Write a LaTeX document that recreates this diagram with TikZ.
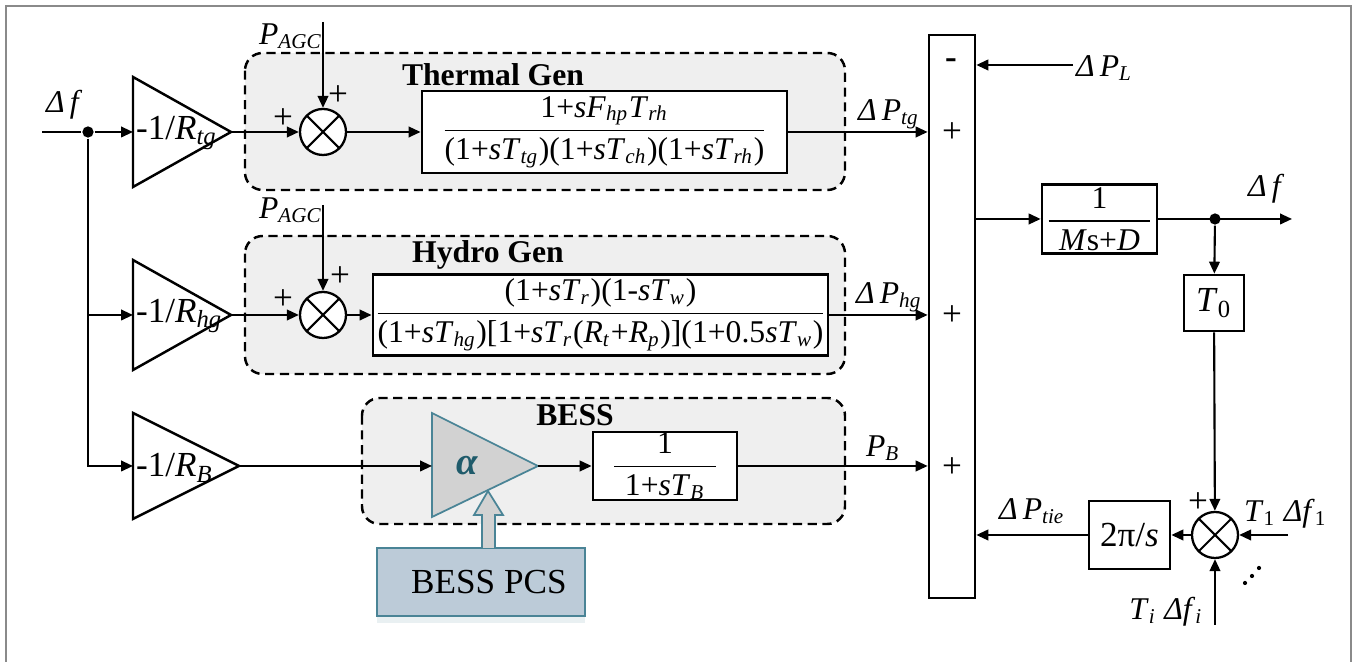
\documentclass[tikz,border=0pt]{standalone}
\usepackage{fontspec}
\setmainfont{Liberation Serif}
\usetikzlibrary{arrows.meta, positioning, calc, shadows}
\definecolor{groupgray}{HTML}{EFEFEF}
\definecolor{ampfill}{HTML}{D2D2D2}
\definecolor{tealedge}{HTML}{4A8496}
\definecolor{tealtext}{HTML}{1F5B6B}
\definecolor{pcsfill}{HTML}{BCCBD8}
\definecolor{framegray}{HTML}{8A8A8A}

\newcommand{\vi}[1]{\textit{#1}}
\newcommand{\lsub}[1]{\textsubscript{\textit{#1}}}
\newcommand{\blkfrac}[2]{$\displaystyle\frac{\hbox{#1}}{\hbox{#2}}$}

\tikzset{
  block/.style={draw, line width=0.75pt, fill=white, inner sep=0pt},
  group/.style={draw, dash pattern=on 2.6pt off 1.6pt, line width=0.7pt, rounded corners=5pt, fill=groupgray},
  grouptitle/.style={font=\fontsize{9}{11}\selectfont\bfseries, inner sep=0pt},
  summer/.style={draw, circle, line width=0.65pt, fill=white, minimum size=0.46cm, inner sep=0pt,
    path picture={\draw[line width=0.6pt] (path picture bounding box.north west) -- (path picture bounding box.south east)
      (path picture bounding box.north east) -- (path picture bounding box.south west);}},
  joint/.style={circle, fill, inner sep=0pt, minimum size=3.2pt},
  lbl/.style={inner sep=0pt, anchor=base west},
  sgn/.style={inner sep=0pt, font=\fontsize{10}{12}\selectfont},
  gain/.style={inner sep=0pt, font=\fontsize{10}{12}\selectfont},
  amp/.style={draw, line width=0.7pt, fill=white},
}

\begin{document}
\begin{tikzpicture}[x=0.01cm, y=-0.01cm, >={Triangle[length=3.4pt,width=3pt]}, line width=0.6pt, font=\fontsize{9}{11}\selectfont]
  \useasboundingbox (0,0) rectangle (1354,662);
  % Rámeček
  \draw[framegray, line width=0.7pt] (6,662) -- (6,6) -- (1351,6) -- (1351,662);

  % Skupiny (čárkované)
  \draw[group] (245,53) rectangle (845,190);
  \draw[group] (245,236) rectangle (845,374);
  \draw[group] (362,398) rectangle (845,524);
  \node[grouptitle] (thtitle) at (493,75) {Thermal Gen};
  \node[grouptitle] (hytitle) at (488,255) {Hydro Gen};
  \node[grouptitle] (bstitle) at (575,415) {BESS};

  % Zesilovače -1/R
  \draw[amp] (133,77) -- (231,132) -- (133,187) -- cycle;
  \draw[amp] (133,260) -- (231,315) -- (133,370) -- cycle;
  \draw[amp] (133,413) -- (239,466) -- (133,519) -- cycle;
  \coordinate (g1in) at (133,132); \coordinate (g1out) at (231,132);
  \coordinate (g2in) at (133,315); \coordinate (g2out) at (231,315);
  \coordinate (g3in) at (133,466); \coordinate (g3out) at (239,466);
  \node[gain, anchor=west] (g1txt) at (135,133) {-1/\vi{R}\lsub{tg}};
  \node[gain, anchor=west] (g2txt) at (135,316) {-1/\vi{R}\lsub{hg}};
  \node[gain, anchor=west] (g3txt) at (135,468) {-1/\vi{R}\lsub{B}};

  % Vstup Δf
  \coordinate (fin) at (42,132);
  \node[joint] (j1) at (88,132) {};
  \node[lbl] (dfin) at (45,113) {\vi{Δ\,f}};
  \draw (fin) -- (j1);
  \draw[->] (j1) -- (g1in);
  \draw[->] (j1) |- (g3in);
  \draw[->] (j1 |- g2in) -- (g2in);

  % Sčítačky P_AGC
  \node[summer] (s1) at (323,132) {};
  \node[summer] (s2) at (323,315) {};
  \coordinate (agc1) at (323,22);
  \coordinate (agc2) at (323,205);
  \node[lbl] (agc1txt) at (258,45) {\vi{P}\lsub{AGC}};
  \node[lbl] (agc2txt) at (258,219) {\vi{P}\lsub{AGC}};
  \node[sgn] at (338,96) {+};
  \node[sgn] at (283,119) {+};
  \node[sgn] at (340,277) {+};
  \node[sgn] at (283,300) {+};
  \draw[->] (agc1) -- (s1);
  \draw[->] (agc2) -- (s2);
  \draw[->] (g1out) -- (s1);
  \draw[->] (g2out) -- (s2);

  % Přenosy bloků
  \node[block, minimum width=3.65cm, minimum height=0.82cm] (thtf) at (604.5,132)
    {\blkfrac{1+\vi{sF}\lsub{hp}\vi{T}\lsub{rh}}{(1+\vi{sT}\lsub{tg})(1+\vi{sT}\lsub{ch})(1+\vi{sT}\lsub{rh})}};
  \node[block, minimum width=4.55cm, minimum height=0.81cm] (hytf) at (600.5,315)
    {\blkfrac{(1+\vi{sT}\lsub{r})(1-\vi{sT}\lsub{w})}{(1+\vi{sT}\lsub{hg})[1+\vi{sT}\lsub{r}(\vi{R}\lsub{t}+\vi{R}\lsub{p})](1+0.5\vi{sT}\lsub{w})}};
  \node[block, minimum width=1.44cm, minimum height=0.68cm] (bstf) at (665,466)
    {\blkfrac{1}{\hspace{3pt}1+\vi{sT}\lsub{B}\hspace{3pt}}};
  \draw[->] (s1) -- (thtf);
  \draw[->] (s2) -- (hytf);

  % BESS: alfa a PCS
  \draw[tealedge, line width=0.5pt, fill=ampfill] (432,413) -- (538,466) -- (432,517) -- cycle;
  \coordinate (ain) at (432,466); \coordinate (aout) at (538,466);
  \node[text=tealtext, font=\fontsize{11}{13}\selectfont\bfseries\itshape] (alpha) at (467,466) {α};
  \node[draw=tealedge, line width=0.5pt, fill=pcsfill, minimum width=2.08cm, minimum height=0.68cm,
    font=\fontsize{10}{12}\selectfont, drop shadow={shadow xshift=0pt, shadow yshift=-2pt, fill=tealedge, opacity=0.12}]
    (pcs) at (481,582) {\hspace{4.5pt}BESS PCS};
  \draw[tealedge, line width=0.5pt, fill=ampfill] (482,548) -- (482,515) -- (474,515) -- (488,491)
    -- (503,515) -- (495,515) -- (495,548);
  \draw[->] (g3out) -- (ain);
  \draw[->] (aout) -- (bstf);

  % Sčítací sběrnice
  \node[block, minimum width=0.46cm, minimum height=5.63cm] (bar) at (952,316.5) {};
  \node[sgn, font=\fontsize{10}{12}\selectfont\bfseries] at (951,64) {-};
  \node[sgn] at (952,133) {+};
  \node[sgn] at (952,316) {+};
  \node[sgn] at (952,468) {+};
  \draw[->] (thtf) -- (thtf -| bar.west);
  \draw[->] (hytf) -- (hytf -| bar.west);
  \draw[->] (bstf) -- (bstf -| bar.west);
  \node[lbl] (ptg) at (857,121) {\vi{Δ\,P}\lsub{tg}};
  \node[lbl] (phg) at (855,304) {\vi{Δ\,P}\lsub{hg}};
  \node[lbl] (pb) at (865,457) {\vi{P}\lsub{B}};
  \coordinate (plin) at (1073,65);
  \node[lbl] (pl) at (1075,77) {\vi{Δ\,P}\lsub{L}};
  \draw[->] (plin) -- (plin -| bar.east);

  % Setrvačnost a výstup Δf
  \node[block, minimum width=1.15cm, minimum height=0.69cm] (mtf) at (1099.5,219)
    {\blkfrac{1}{\hspace{3pt}\vi{M}s+\vi{D}\hspace{3pt}}};
  \draw[->] (bar.east |- mtf) -- (mtf);
  \node[joint] (j2) at (1215,219) {};
  \coordinate (fout) at (1292,219);
  \draw[->] (mtf) -- (fout);
  \node[lbl] (dfout) at (1247,197) {\vi{Δ\,f}};

  % Propojovací vedení
  \node[block, minimum width=0.6cm, minimum height=0.56cm, font=\fontsize{10}{12}\selectfont] (t0) at (1214,303) {\vi{T}\textsubscript{0}};
  \node[summer] (s3) at (1215,535) {};
  \node[block, minimum width=0.81cm, minimum height=0.68cm, font=\fontsize{10}{12}\selectfont] (tpi) at (1129.5,535) {2π/\vi{s}};
  \draw[->] (j2) -- (t0);
  \draw[->] (t0) -- (s3);
  \coordinate (t1f) at (1288,535);
  \coordinate (tif) at (1215,625);
  \draw[->] (t1f) -- (s3);
  \draw[->] (tif) -- (s3);
  \draw[->] (s3) -- (tpi);
  \draw[->] (tpi) -- (tpi -| bar.east);
  \node[sgn] at (1198,503) {+};
  \node[lbl] (t1txt) at (1243,522) {\vi{T}\textsubscript{1} \vi{Δf}\textsubscript{1}};
  \node[lbl, anchor=base east] (titxt) at (1204,620) {\vi{T}\lsub{i} \vi{Δf}\lsub{i}};
  \node[lbl] (ptie) at (998,520) {\vi{Δ\,P}\lsub{tie}};
  \fill (1245,583) circle (2.1) (1252,576) circle (2.1) (1259,568) circle (2.1);
\end{tikzpicture}
\end{document}
